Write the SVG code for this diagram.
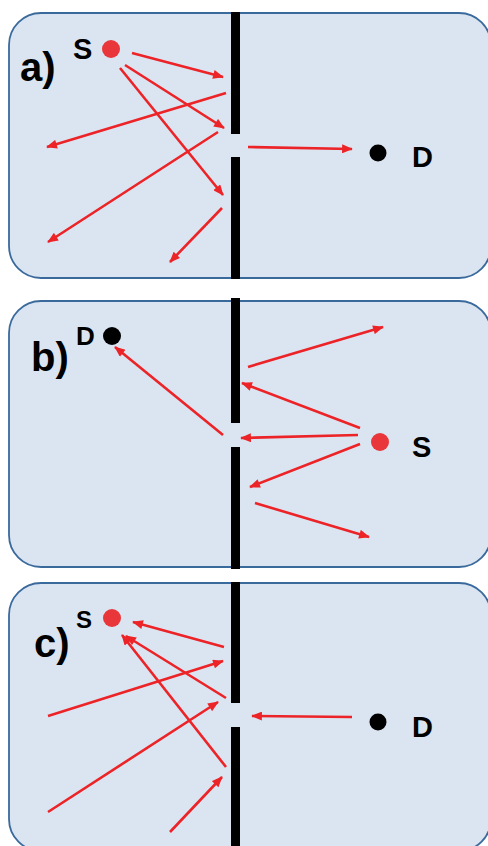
<svg xmlns="http://www.w3.org/2000/svg" width="488" height="846" viewBox="0 0 488 846">
<defs>
<style>
.panel{fill:#dbe5f2;stroke:#3a6a9c;stroke-width:1.8}
.wall{fill:#000}
.ray{stroke:#ec2327;stroke-width:2.6;fill:none;marker-end:url(#ah)}
.lbl{font-family:"Liberation Sans",Arial,sans-serif;font-weight:bold;fill:#000}
.big{font-size:40px}
.src{fill:#e8363a}
.det{fill:#000}
</style>
<marker id="ah" viewBox="0 0 12 10" refX="11" refY="5" markerWidth="12" markerHeight="9" markerUnits="userSpaceOnUse" orient="auto">
<path d="M0,0 L12,5 L0,10 z" fill="#ec2327"/>
</marker>
</defs>
<rect width="488" height="846" fill="#ffffff"/>

<g id="panel-a">
<rect class="panel" x="9" y="13" width="482" height="265" rx="32"/>
<rect class="wall" x="231" y="12" width="9" height="122"/>
<rect class="wall" x="231" y="157" width="9" height="122"/>
<text class="lbl big" x="20" y="81">a)</text>
</g>
<g id="a-S"><circle class="src" cx="111" cy="49" r="9"/><text class="lbl" x="73" y="59" font-size="29">S</text></g>
<g id="a-D"><circle class="det" cx="378" cy="153" r="8.5"/><text class="lbl" x="412" y="167" font-size="29">D</text></g>

<g id="panel-b">
<rect class="panel" x="9" y="301" width="482" height="266" rx="32"/>
<rect class="wall" x="231" y="298" width="9" height="125"/>
<rect class="wall" x="231" y="447" width="9" height="122"/>
<text class="lbl big" x="31" y="371">b)</text>
</g>
<g id="b-D"><circle class="det" cx="112" cy="336" r="9"/><text class="lbl" x="76" y="345" font-size="26">D</text></g>
<g id="b-S"><circle class="src" cx="380" cy="442" r="9"/><text class="lbl" x="412" y="457" font-size="29">S</text></g>

<g id="panel-c">
<rect class="panel" x="9" y="583" width="482" height="268" rx="32"/>
<rect class="wall" x="231" y="582" width="9" height="121"/>
<rect class="wall" x="231" y="727" width="9" height="120"/>
<text class="lbl big" x="34" y="657">c)</text>
</g>
<g id="c-S"><circle class="src" cx="112" cy="618" r="9"/><text class="lbl" x="76" y="628" font-size="24">S</text></g>
<g id="c-D"><circle class="det" cx="378" cy="722" r="8.5"/><text class="lbl" x="412" y="737" font-size="29">D</text></g>

<g id="connectors">
<line class="ray" x1="132" y1="53" x2="223" y2="77"/>
<line class="ray" x1="125" y1="65" x2="224" y2="128"/>
<line class="ray" x1="120" y1="68" x2="223" y2="195"/>
<line class="ray" x1="226" y1="93" x2="47" y2="147"/>
<line class="ray" x1="218" y1="132" x2="48" y2="242"/>
<line class="ray" x1="222" y1="208" x2="170" y2="262"/>
<line class="ray" x1="248" y1="147" x2="352" y2="149"/>

<line class="ray" x1="223" y1="435" x2="115" y2="347"/>
<line class="ray" x1="358" y1="435" x2="241" y2="438"/>
<line class="ray" x1="360" y1="428" x2="242" y2="383"/>
<line class="ray" x1="360" y1="444" x2="250" y2="487"/>
<line class="ray" x1="248" y1="367" x2="383" y2="327"/>
<line class="ray" x1="255" y1="503" x2="369" y2="537"/>

<line class="ray" x1="224" y1="647" x2="133" y2="622"/>
<line class="ray" x1="226" y1="698" x2="126" y2="636"/>
<line class="ray" x1="226" y1="767" x2="122" y2="635"/>
<line class="ray" x1="48" y1="716" x2="223" y2="661"/>
<line class="ray" x1="48" y1="812" x2="218" y2="702"/>
<line class="ray" x1="170" y1="832" x2="222" y2="777"/>
<line class="ray" x1="352" y1="717" x2="252" y2="716"/>
</g>
</svg>
